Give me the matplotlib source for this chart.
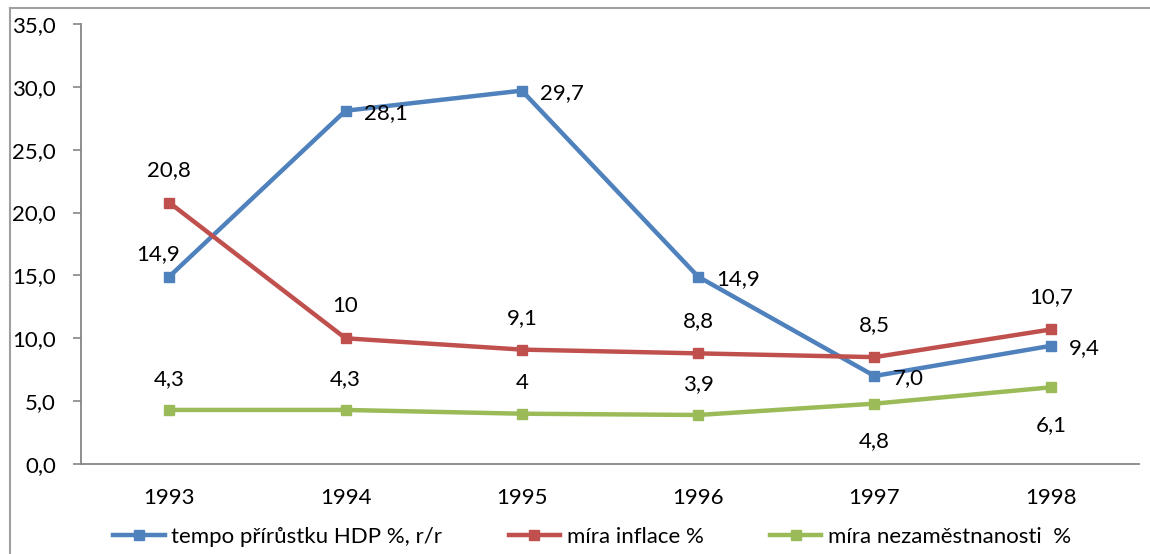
import matplotlib
matplotlib.use("Agg")
import matplotlib.pyplot as plt
from matplotlib.lines import Line2D

years = ["1993", "1994", "1995", "1996", "1997", "1998"]
hdp = [14.9, 28.1, 29.7, 14.9, 7.0, 9.4]
inflace = [20.8, 10, 9.1, 8.8, 8.5, 10.7]
nezam = [4.3, 4.3, 4, 3.9, 4.8, 6.1]
hdp_labels = ["14,9", "28,1", "29,7", "14,9", "7,0", "9,4"]
inflace_labels = ["20,8", "10", "9,1", "8,8", "8,5", "10,7"]
nezam_labels = ["4,3", "4,3", "4", "3,9", "4,8", "6,1"]
series_names = ["tempo přírůstku HDP %, r/r", "míra inflace %", "míra nezaměstnanosti  %"]
yticks = [0, 5, 10, 15, 20, 25, 30, 35]

plt.rcParams['font.family'] = ['Lato', 'DejaVu Sans']

W, H = 1150, 554
fig = plt.figure(figsize=(W / 100, H / 100), dpi=100)
ax = fig.add_axes([81 / W, 1 - 464 / H, (1139 - 81) / W, (464 - 24) / H])

blue, red, green = "#4F81BD", "#C0504D", "#9BBB59"
x = list(range(len(years)))
lw, ms = 3.2, 7.5
ax.plot(x, hdp, color=blue, lw=lw, marker="s", ms=ms, zorder=3)
ax.plot(x, inflace, color=red, lw=lw, marker="s", ms=ms, zorder=3)
ax.plot(x, nezam, color=green, lw=lw, marker="s", ms=ms, zorder=3)

fs = 16
# blue labels
for i, (v, t) in enumerate(zip(hdp, hdp_labels)):
    if i == 0:
        ax.annotate(t, (i, v), xytext=(-8, 16), textcoords="offset points",
                    ha="center", va="center", fontsize=fs)
    else:
        ax.annotate(t, (i, v), xytext=(13, -1.5), textcoords="offset points",
                    ha="left", va="center", fontsize=fs)
# red labels above
for i, (v, t) in enumerate(zip(inflace, inflace_labels)):
    ax.annotate(t, (i, v), xytext=(0, 23), textcoords="offset points",
                ha="center", va="center", fontsize=fs)
# green labels
for i, (v, t) in enumerate(zip(nezam, nezam_labels)):
    dy = 22 if i < 4 else -27
    ax.annotate(t, (i, v), xytext=(0, dy), textcoords="offset points",
                ha="center", va="center", fontsize=fs)

ax.set_xlim(-0.5, len(years) - 0.5)
ax.set_ylim(0, 35)
ax.set_yticks(yticks)
ax.set_yticklabels([f"{v:.1f}".replace(".", ",") for v in yticks], fontsize=fs)
ax.set_xticks(x)
ax.set_xticklabels(years, fontsize=fs)
ax.tick_params(axis="x", length=0, pad=17)
ax.tick_params(axis="y", length=6, width=1.2, color="#868686", pad=12)
for s in ["top", "right"]:
    ax.spines[s].set_visible(False)
for s in ["left", "bottom"]:
    ax.spines[s].set_color("#868686")
    ax.spines[s].set_linewidth(1.3)

handles = [Line2D([], [], color=c, lw=lw, marker="s", ms=ms) for c in (blue, red, green)]
fig.legend(handles, series_names, loc="center", bbox_to_anchor=(0.515, 1 - 537 / H),
           ncol=3, frameon=False, fontsize=fs, handlelength=2.3, columnspacing=3.0,
           handletextpad=0.3)

# figure border (left and top)
fig.add_artist(Line2D([10 / W, 10 / W], [0, 1 - 8 / H], transform=fig.transFigure,
                      color="#A0A0A0", lw=1.5))
fig.add_artist(Line2D([10 / W, 1], [1 - 8 / H, 1 - 8 / H], transform=fig.transFigure,
                      color="#A0A0A0", lw=1.5))

fig.savefig("out.png", dpi=100)
